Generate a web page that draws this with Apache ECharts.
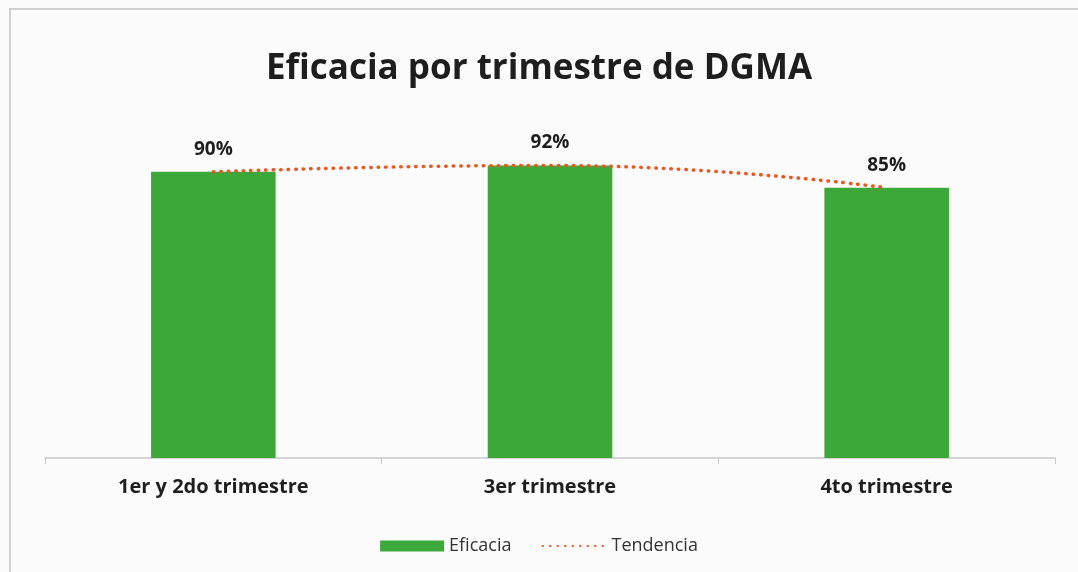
<!DOCTYPE html>
<html>
<head>
<meta charset="utf-8">
<script src="https://cdn.jsdelivr.net/npm/echarts@6/dist/echarts.min.js"></script>
<style>
  html, body { margin: 0; padding: 0; background: #fbfbfb; }
  #chart { width: 1078px; height: 572px; }
</style>
</head>
<body>
<div id="chart"></div>
<script>
var categories = ['1er y 2do trimestre', '3er trimestre', '4to trimestre'];
var eficacia = [90, 92, 85];
var tendencia = [90, 92, 85];

var chart = echarts.init(document.getElementById('chart'));
var font = '"Open Sans", "Noto Sans", sans-serif';

var option = {
    backgroundColor: '#fbfbfb',
    animation: false,
    title: {
        text: 'Eficacia por trimestre de DGMA',
        left: 'center',
        top: 47,
        textStyle: {
            fontFamily: font,
            fontSize: 35,
            fontWeight: 'bold',
            color: '#1e1e1e'
        }
    },
    graphic: [{
        type: 'rect',
        shape: { x: 10, y: 9, width: 1100, height: 600 },
        style: { fill: 'none', stroke: '#cfcfcf', lineWidth: 2 },
        silent: true
    }],
    legend: {
        bottom: 12,
        left: 'center',
        itemGap: 30,
        itemWidth: 64,
        itemHeight: 11,
        textStyle: { fontFamily: font, fontSize: 18, color: '#333' },
        data: [
            { name: 'Eficacia', icon: 'rect' },
            { name: 'Tendencia', itemStyle: { opacity: 0 } }
        ]
    },
    grid: {
        left: 45,
        right: 23,
        top: 140,
        bottom: 114
    },
    xAxis: {
        type: 'category',
        data: categories,
        axisLine: { lineStyle: { color: '#c8c8c8', width: 1.5 } },
        axisTick: { show: true, alignWithLabel: false, length: 6, lineStyle: { color: '#c8c8c8' } },
        axisLabel: {
            margin: 19,
            fontFamily: font,
            fontSize: 20,
            fontWeight: 'bold',
            color: '#1e1e1e'
        }
    },
    yAxis: {
        type: 'value',
        min: 0,
        max: 100,
        show: false
    },
    series: [
        {
            name: 'Eficacia',
            type: 'bar',
            barWidth: '37%',
            data: eficacia,
            itemStyle: { color: '#3da83a' },
            label: {
                show: true,
                position: 'top',
                distance: 13,
                formatter: '{c}%',
                fontFamily: font,
                fontSize: 19,
                fontWeight: 'bold',
                color: '#1e1e1e'
            },
            z: 2
        },
        {
            name: 'Tendencia',
            type: 'line',
            data: tendencia,
            smooth: true,
            symbol: 'none',
            lineStyle: { color: '#e8571f', width: 3.5, type: [0.5, 7], cap: 'round' },
            itemStyle: { color: '#e8571f' },
            z: 3
        }
    ]
};

chart.setOption(option);
</script>
</body>
</html>
